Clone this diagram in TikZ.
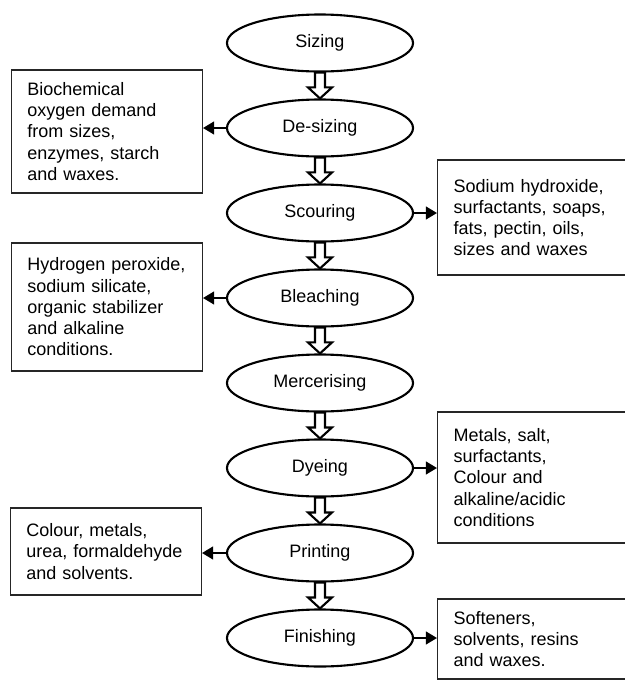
\documentclass[tikz,border=0pt]{standalone}
\usepackage{fontspec}
\setmainfont{Liberation Sans}
\usetikzlibrary{shapes.geometric,arrows.meta,calc}
\newcommand\txtsize{\fontsize{12.8}{15.1}\selectfont}
\begin{document}
\begin{tikzpicture}[x=0.025cm,y=-0.025cm,
  stage/.style={ellipse,draw,line width=1.5pt,minimum width=4.65cm,minimum height=1.425cm,inner sep=0pt,font=\txtsize},
  waste/.style={draw=black!85,line width=0.8pt,text width=3.975cm,inner xsep=0.4cm,inner ysep=0pt,align=left,font=\txtsize},
  outflow/.style={line width=1.5pt,-{Triangle[length=0.28cm,width=0.32cm]}}]
\useasboundingbox (0,0) rectangle (625,680);
\clip (0,0) rectangle (625,680);
\foreach \name/\lbl [count=\i from 0] in {sizing/Sizing,desizing/De-sizing,scouring/Scouring,bleaching/Bleaching,mercerising/Mercerising,dyeing/Dyeing,printing/Printing,finishing/Finishing}
  \node[stage] (\name) at (320,{43+85*\i}) {\lbl};
\foreach \a/\b in {sizing/desizing,desizing/scouring,scouring/bleaching,bleaching/mercerising,mercerising/dyeing,dyeing/printing,printing/finishing}
  \draw[line width=1.5pt,fill=white] ($(\a.south)+(-5,0)$) -- ($(\b.north)+(-5,-11)$) -- ++(-7,0) -- (\b.north) -- ++(12,-11) -- ++(-7,0) -- ($(\a.south)+(5,0)$) -- cycle;
\node[waste,anchor=east,minimum height=3.075cm] (bod) at (203,131.5) {Biochemical\\oxygen demand\\from sizes,\\enzymes, starch\\and waxes.};
\node[waste,anchor=west,minimum height=2.875cm,text width=4.8cm] (alkali) at (437,217.5) {Sodium hydroxide,\\surfactants, soaps,\\fats, pectin, oils,\\sizes and waxes};
\node[waste,anchor=east,minimum height=3.2cm] (bleachchem) at (203,307) {Hydrogen peroxide,\\sodium silicate,\\organic stabilizer\\and alkaline\\conditions.};
\node[waste,anchor=west,minimum height=3.275cm,text width=4.8cm] (dyechem) at (437,477.5) {Metals, salt,\\surfactants,\\Colour and\\alkaline/acidic\\conditions};
\node[waste,anchor=east,minimum height=2.175cm] (printchem) at (202,551.5) {Colour, metals,\\urea, formaldehyde\\and solvents.};
\node[waste,anchor=west,minimum height=2cm,text width=4.8cm] (finishchem) at (437,639) {Softeners,\\solvents, resins\\and waxes.};
\draw[outflow] (desizing.west) -- (desizing.west -| bod.east);
\draw[outflow] (scouring.east) -- (scouring.east -| alkali.west);
\draw[outflow] (bleaching.west) -- (bleaching.west -| bleachchem.east);
\draw[outflow] (dyeing.east) -- (dyeing.east -| dyechem.west);
\draw[outflow] (printing.west) -- (printing.west -| printchem.east);
\draw[outflow] (finishing.east) -- (finishing.east -| finishchem.west);
\end{tikzpicture}
\end{document}
